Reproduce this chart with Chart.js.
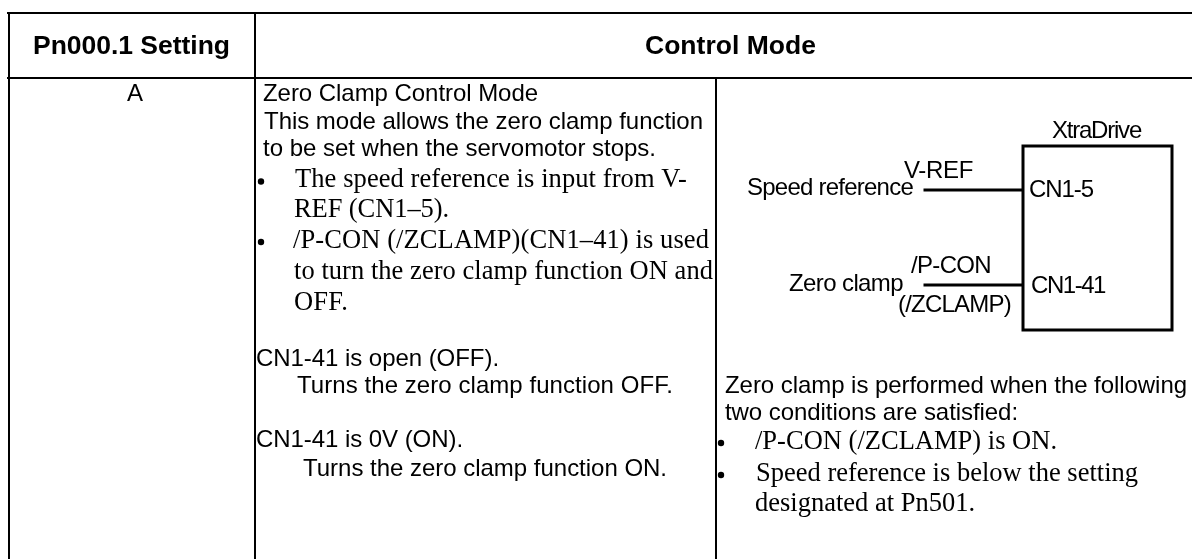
<!DOCTYPE html>
<html>
<head>
<meta charset="utf-8">
<title>Pn000.1 Setting</title>
<script src="https://cdn.jsdelivr.net/npm/chart.js@4/dist/chart.umd.min.js"></script>
<style>
  html, body { margin: 0; padding: 0; background: #fff; overflow: hidden; }
  canvas { display: block; }
</style>
</head>
<body>
<canvas id="tableChart" width="1192" height="559"></canvas>
<script>
// table rules: [x1, y1, x2, y2]
const tableRules = [
    [8, 13, 1192, 13],
    [8, 78, 1192, 78],
    [9, 13, 9, 559],
    [255, 13, 255, 559],
    [716, 78, 716, 559]
];
const driveBox = [[1023, 146], [1172, 146], [1172, 330], [1023, 330], [1023, 146]];
const wires = [
    [925, 190, 1022, 190],
    [925, 285, 1022, 285]
];
const bulletsX = [261, 261, 721, 721];
const bulletsY = [181.5, 242, 443, 475];

const headerTexts = ["Pn000.1 Setting", "Control Mode"];
const headerLeft = [33, 645];
const headerRight = [230, 816];
const headerBase = [54, 54];

const sansTexts = [
    "A",
    "Zero Clamp Control Mode",
    "This mode allows the zero clamp function",
    "to be set when the servomotor stops.",
    "CN1-41 is open (OFF).",
    "Turns the zero clamp function OFF.",
    "CN1-41 is 0V (ON).",
    "Turns the zero clamp function ON.",
    "XtraDrive",
    "V-REF",
    "Speed reference",
    "CN1-5",
    "/P-CON",
    "Zero clamp",
    "CN1-41",
    "(/ZCLAMP)",
    "Zero clamp is performed when the following",
    "two conditions are satisfied:"
];
const sansLeft = [127, 263, 264, 263, 256, 297, 256, 303, 1052, 904, 747, 1029, 911, 789, 1031, 898, 725, 725];
const sansRight = [144, 538, 703, 656, 499, 673, 463, 667, 1141, 973, 913, 1093, 991, 903, 1105, 1011, 1187, 1018];
const sansBase = [101, 101, 129, 156, 366, 393, 447, 476, 138, 178, 195, 197, 273, 291, 293, 312, 393, 420];

const serifTexts = [
    "The speed reference is input from V-",
    "REF (CN1\u20135).",
    "/P-CON (/ZCLAMP)(CN1\u201341) is used",
    "to turn the zero clamp function ON and",
    "OFF.",
    "/P-CON (/ZCLAMP) is ON.",
    "Speed reference is below the setting",
    "designated at Pn501."
];
const serifLeft = [295, 294, 293, 294, 294, 755, 756, 755];
const serifRight = [687, 449, 709, 713, 348, 1057, 1138, 975];
const serifBase = [187, 217, 248, 279, 310, 449, 481, 511];

function segment(s) {
    return [{ x: s[0], y: s[1] }, { x: s[2], y: s[3] }];
}

function lineSet(points, width) {
    return {
        data: points,
        showLine: true,
        borderColor: '#000',
        borderWidth: width,
        borderCapStyle: 'square',
        pointRadius: 0,
        fill: false
    };
}

// draws one group of labels, spacing each one out to the width it has in the picture
function drawGroup(chart, font, texts, left, right, base) {
    let ctx = chart.ctx;
    let xScale = chart.scales.x;
    let yScale = chart.scales.y;
    ctx.font = font;
    ctx.fillStyle = '#000';
    ctx.textAlign = 'left';
    ctx.textBaseline = 'alphabetic';
    texts.forEach((text, i) => {
        ctx.letterSpacing = '0px';
        let x1 = xScale.getPixelForValue(left[i]);
        let x2 = xScale.getPixelForValue(right[i]);
        let gap = (x2 - x1 - ctx.measureText(text).width) / text.length;
        ctx.letterSpacing = gap.toFixed(3) + 'px';
        ctx.fillText(text, x1, yScale.getPixelForValue(base[i]));
    });
    ctx.letterSpacing = '0px';
}

const tableText = {
    id: 'tableText',
    afterDatasetsDraw(chart) {
        chart.ctx.save();
        drawGroup(chart, 'bold 26.5px "Liberation Sans"', headerTexts, headerLeft, headerRight, headerBase);
        drawGroup(chart, '24px "Liberation Sans"', sansTexts, sansLeft, sansRight, sansBase);
        drawGroup(chart, '26.5px "Liberation Serif"', serifTexts, serifLeft, serifRight, serifBase);
        chart.ctx.restore();
    }
};

let datasets = tableRules.map(r => lineSet(segment(r), 2));
datasets.push(lineSet(driveBox.map(p => ({ x: p[0], y: p[1] })), 3));
wires.forEach(w => datasets.push(lineSet(segment(w), 3)));
datasets.push({
    data: bulletsX.map((x, i) => ({ x: x, y: bulletsY[i] })),
    showLine: false,
    pointRadius: 3.2,
    pointBorderWidth: 0,
    pointBackgroundColor: '#000'
});

new Chart("tableChart", {
    type: 'scatter',
    data: { datasets: datasets },
    options: {
        responsive: false,
        animation: false,
        layout: { padding: 0, autoPadding: false },
        plugins: { legend: { display: false }, tooltip: { enabled: false } },
        scales: {
            x: { type: 'linear', min: 0, max: 1192, display: false },
            y: { type: 'linear', min: 0, max: 559, reverse: true, display: false }
        }
    },
    plugins: [tableText]
});
</script>
</body>
</html>
